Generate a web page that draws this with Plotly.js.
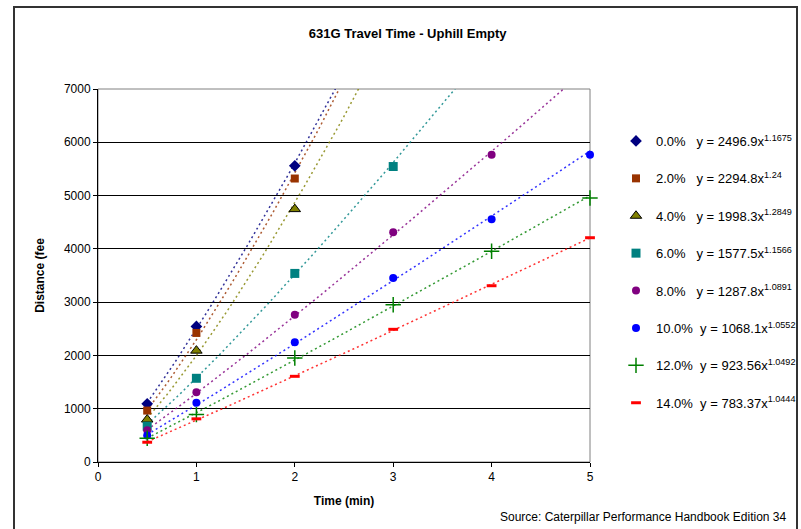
<!DOCTYPE html>
<html>
<head>
<meta charset="utf-8">
<script src="https://cdn.plot.ly/plotly-3.0.1.min.js"></script>
<style>
  html, body { margin: 0; padding: 0; background: #fff; }
  #chart { width: 801px; height: 529px; }
</style>
</head>
<body>
<div id="chart"></div>
<script>
// ---- Data ----
const timeMin = [0.5, 1, 2, 3, 4, 5];
const gradeNames = ['0.0%', '2.0%', '4.0%', '6.0%', '8.0%', '10.0%', '12.0%', '14.0%'];
const dist0  = [1091, 2545, 5558];
const dist2  = [965, 2422, 5320];
const dist4  = [797, 2090, 4746];
const dist6  = [671, 1571, 3539, 5545];
const dist8  = [596, 1308, 2765, 4310, 5766];
const dist10 = [497, 1110, 2246, 3453, 4554, 5764];
const dist12 = [446, 890, 1953, 2952, 3954, 4954];
const dist14 = [371, 810, 1608, 2490, 3308, 4209];
// Power trendline coefficients shown in the legend: y = a * x^b
const trendCoef = ['2496.9', '2294.8', '1998.3', '1577.5', '1287.8', '1068.1', '923.56', '783.37'];
const trendExp  = ['1.1675', '1.24', '1.2849', '1.1566', '1.0891', '1.0552', '1.0492', '1.0444'];
const xTicks = [0, 1, 2, 3, 4, 5];
const yTicks = [0, 1000, 2000, 3000, 4000, 5000, 6000, 7000];

// ---- Styles ----
const allDist = [dist0, dist2, dist4, dist6, dist8, dist10, dist12, dist14];
const colors = ['#000080', '#993300', '#808000', '#008080', '#800080', '#0000FF', '#008000', '#FF0000'];
const markers = [
  {symbol: 'diamond', size: 9},
  {symbol: 'square', size: 8},
  {symbol: 'triangle-up', size: 10, line: {color: '#000', width: 1}},
  {symbol: 'square', size: 9},
  {symbol: 'circle', size: 8},
  {symbol: 'circle', size: 8},
  {symbol: 'cross-thin-open', size: 11, line: {width: 1.5}},
  {symbol: 'line-ew-open', size: 7, line: {width: 3}}
];

const traces = [];
// trendlines (power fits from legend equations), evaluated on the axis span
const trendX = [];
for (let i = 0; i <= 90; i++) trendX.push(0.5 + i * 0.05);
allDist.forEach((d, k) => {
  const a = parseFloat(trendCoef[k]), b = parseFloat(trendExp[k]);
  traces.push({
    x: trendX,
    y: trendX.map(t => a * Math.pow(t, b)),
    mode: 'lines',
    line: {color: colors[k], width: 1.5, dash: '2px,3px'},
    opacity: 0.8,
    showlegend: false,
    hoverinfo: 'skip'
  });
});
allDist.forEach((d, k) => {
  const gap = gradeNames[k].length > 4 ? '\u00a0\u00a0' : '\u00a0\u00a0\u00a0';
  traces.push({
    x: timeMin.slice(0, d.length),
    y: d,
    mode: 'markers',
    name: gradeNames[k] + gap + 'y = ' + trendCoef[k] + 'x<sup>' + trendExp[k] + '</sup>',
    legendgroup: 'g' + k,
    marker: Object.assign({color: colors[k]}, markers[k]),
    cliponaxis: false
  });
});

const L = 98, R = 590, T = 89, B = 462, W = 801, H = 529;
const px = v => (v - L) / (R - L);
const py = v => (B - v) / (B - T);
const font = 'Liberation Sans, Arial, sans-serif';

const layout = {
  width: W, height: H,
  margin: {l: L, r: W - R, t: T, b: H - B, pad: 0, autoexpand: false},
  paper_bgcolor: '#fff',
  plot_bgcolor: '#fff',
  font: {family: font, size: 12, color: '#000'},
  title: {
    text: '<b>631G Travel Time - Uphill Empty</b>',
    font: {family: font, size: 13, color: '#000'},
    xref: 'container', x: 0.509, xanchor: 'center',
    yref: 'container', y: 1 - 33 / H, yanchor: 'middle'
  },
  xaxis: {
    range: [0, 5], tickvals: xTicks, ticktext: xTicks.map(String),
    showgrid: false, zeroline: false,
    showline: true, linecolor: '#000', linewidth: 1,
    ticks: 'outside', ticklen: 4, tickcolor: '#000',
    tickfont: {size: 12},
    title: {text: '<b>Time (min)</b>', font: {size: 12}, standoff: 13}
  },
  yaxis: {
    range: [0, 7000], tickvals: yTicks, ticktext: yTicks.map(String),
    showgrid: true, gridcolor: '#000', gridwidth: 1, zeroline: false,
    showline: true, linecolor: '#000', linewidth: 1,
    ticks: 'outside', ticklen: 4, tickcolor: '#000',
    tickfont: {size: 12},
    title: {text: '<b>Distance (fee</b>', font: {size: 12}, standoff: 16}
  },
  showlegend: true,
  legend: {
    xref: 'container', yref: 'container',
    x: 616 / W, y: 1 - 126 / H, xanchor: 'left', yanchor: 'top',
    font: {family: font, size: 13, color: '#000'},
    bgcolor: 'rgba(0,0,0,0)', borderwidth: 0,
    traceorder: 'grouped', tracegroupgap: 17.5,
    maxheight: 400
  },
  shapes: [
    {type: 'rect', xref: 'paper', yref: 'paper', x0: 0, x1: 1, y0: 0, y1: 1,
     line: {color: '#808080', width: 1}, layer: 'below'},
    {type: 'rect', xref: 'paper', yref: 'paper',
     x0: px(14), x1: px(797), y0: py(545), y1: py(7),
     line: {color: '#333', width: 2}}
  ],
  annotations: [
    {text: 'Source: Caterpillar Performance Handbook Edition 34',
     xref: 'paper', yref: 'paper', x: px(788), y: py(517),
     xanchor: 'right', yanchor: 'middle', showarrow: false,
     font: {family: font, size: 12, color: '#000'}}
  ]
};

Plotly.newPlot('chart', traces, layout, {displayModeBar: false, staticPlot: true});
</script>
</body>
</html>
